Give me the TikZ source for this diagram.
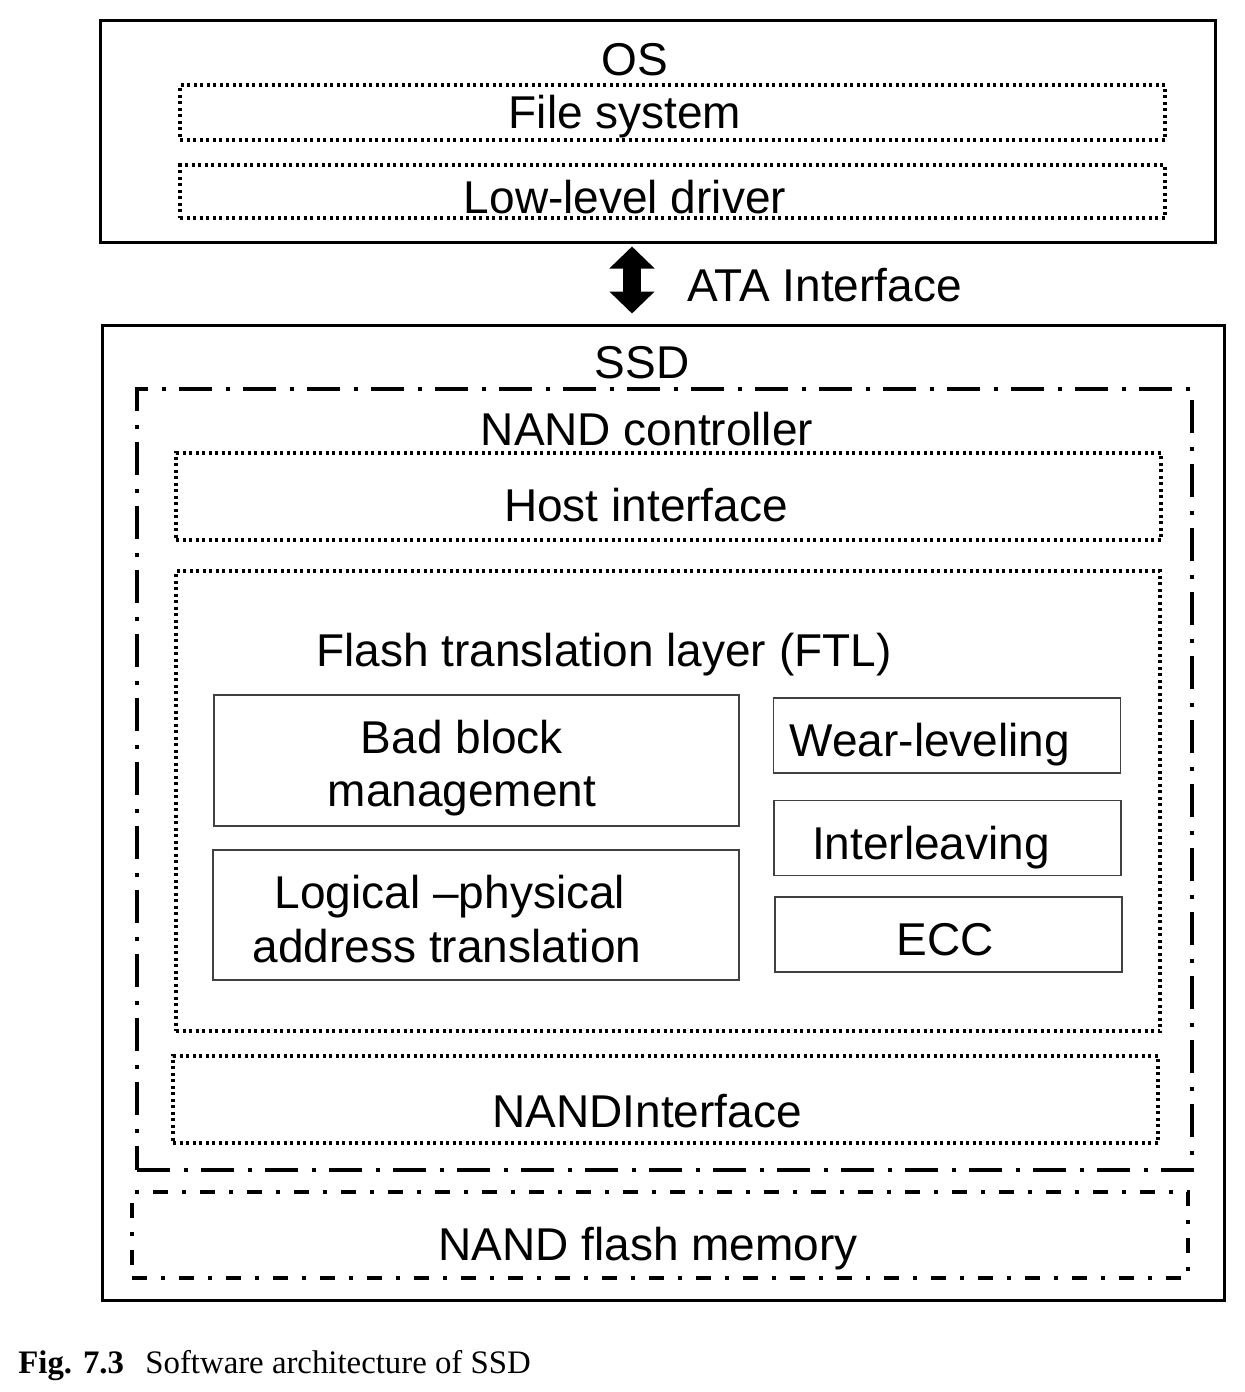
\documentclass[tikz,border=0pt]{standalone}
\usepackage{fontspec}
\setmainfont{Liberation Sans}
\newfontfamily\capfont{Liberation Serif}
\usetikzlibrary{arrows.meta, positioning}

\tikzset{
  outer/.style={draw, line width=1.5pt, inner sep=0pt},
  dotbox/.style={draw, line width=1.6pt, dash pattern=on 1.5pt off 1.75pt, inner sep=0pt},
  dashdot/.style={draw, line width=2pt, dash pattern=on 16.5pt off 6.75pt on 2pt off 6.75pt, inner sep=0pt},
  smalldashdot/.style={draw, line width=2pt, dash pattern=on 7.5pt off 7pt on 2pt off 7pt, inner sep=0pt},
  thinbox/.style={draw=black!75, line width=0.75pt, inner sep=0pt},
  lbl/.style={anchor=base, inner sep=0pt, font=\fontsize{23}{28}\selectfont},
  ata/.style={line width=9pt, {Triangle[width=22pt,length=11pt]}-{Triangle[width=22pt,length=11pt]}}
}

\begin{document}
\begin{tikzpicture}[x=0.5pt, y=-0.5pt]
  \useasboundingbox (0,0) rectangle (1244,1392);
  \node[outer, minimum width=557.5pt, minimum height=111pt] (os) at (657.5,131) {};
  \node[dotbox, minimum width=492.5pt, minimum height=27.5pt] (fs) at (672.5,112.5) {};
  \node[dotbox, minimum width=492.5pt, minimum height=26.5pt] (lld) at (672.5,191.5) {};
  \node[outer, minimum width=561pt, minimum height=487.5pt] (ssd) at (663,812.5) {};
  \node[dashdot, minimum width=527.5pt, minimum height=390.5pt] (ctrl) at (664.5,779.5) {};
  \node[dotbox, minimum width=492.5pt, minimum height=43.5pt] (host) at (668.5,496.5) {};
  \node[dotbox, minimum width=492pt, minimum height=230pt] (ftl) at (668,801) {};
  \node[thinbox, minimum width=262.5pt, minimum height=65.5pt] (bbm) at (476.5,760.5) {};
  \node[thinbox, minimum width=263pt, minimum height=65pt] (lpa) at (476,915) {};
  \foreach \name/\x/\y in {wl/947/735.5, il/947.5/838, ecc/948.5/934.5}{
    \node[thinbox, minimum width=173.5pt, minimum height=37.5pt] (\name) at (\x,\y) {};
  };
  \node[dotbox, minimum width=492.5pt, minimum height=43.5pt] (nif) at (665.5,1099.5) {};
  \node[smalldashdot, minimum width=528pt, minimum height=43pt] (flash) at (660,1235) {};

  \node[lbl] (os-l) at (635,75) {OS};
  \node[lbl] (fs-l) at (625,128) {File system};
  \node[lbl] (lld-l) at (625,213) {Low-level driver};
  \node[lbl, anchor=base west] (ata-l) at (687,301) {ATA Interface};
  \node[lbl] (ssd-l) at (642,378) {SSD};
  \node[lbl] (ctrl-l) at (647,445) {NAND controller};
  \node[lbl] (host-l) at (646,521) {Host interface};
  \node[lbl] (ftl-l) at (604,666) {Flash translation layer (FTL)};
  \node[lbl] (bbm-l1) at (462,753) {Bad block};
  \node[lbl] (bbm-l2) at (462,806) {management};
  \node[lbl] (lpa-l1) at (450,908) {Logical –physical};
  \node[lbl] (lpa-l2) at (447,962) {address translation};
  \node[lbl] (wl-l) at (930,756) {Wear-leveling};
  \node[lbl] (il-l) at (931,859) {Interleaving};
  \node[lbl] (ecc-l) at (945,955) {ECC};
  \node[lbl] (nif-l) at (647,1127) {NANDInterface};
  \node[lbl] (flash-l) at (648,1260) {NAND flash memory};

  \coordinate (ax) at (632,280);
  \draw[ata, shorten <=1.5pt, shorten >=5pt] (os.south -| ax) -- (ssd.north -| ax);

  \node[anchor=base west, inner sep=0pt, font=\capfont\bfseries\fontsize{16.4}{20}\selectfont] (fig) at (18,1373) {Fig. 7.3};
  \node[anchor=base west, inner sep=0pt, font=\capfont\fontsize{16.4}{20}\selectfont] (cap) at (145,1373) {Software architecture of SSD};
\end{tikzpicture}
\end{document}
